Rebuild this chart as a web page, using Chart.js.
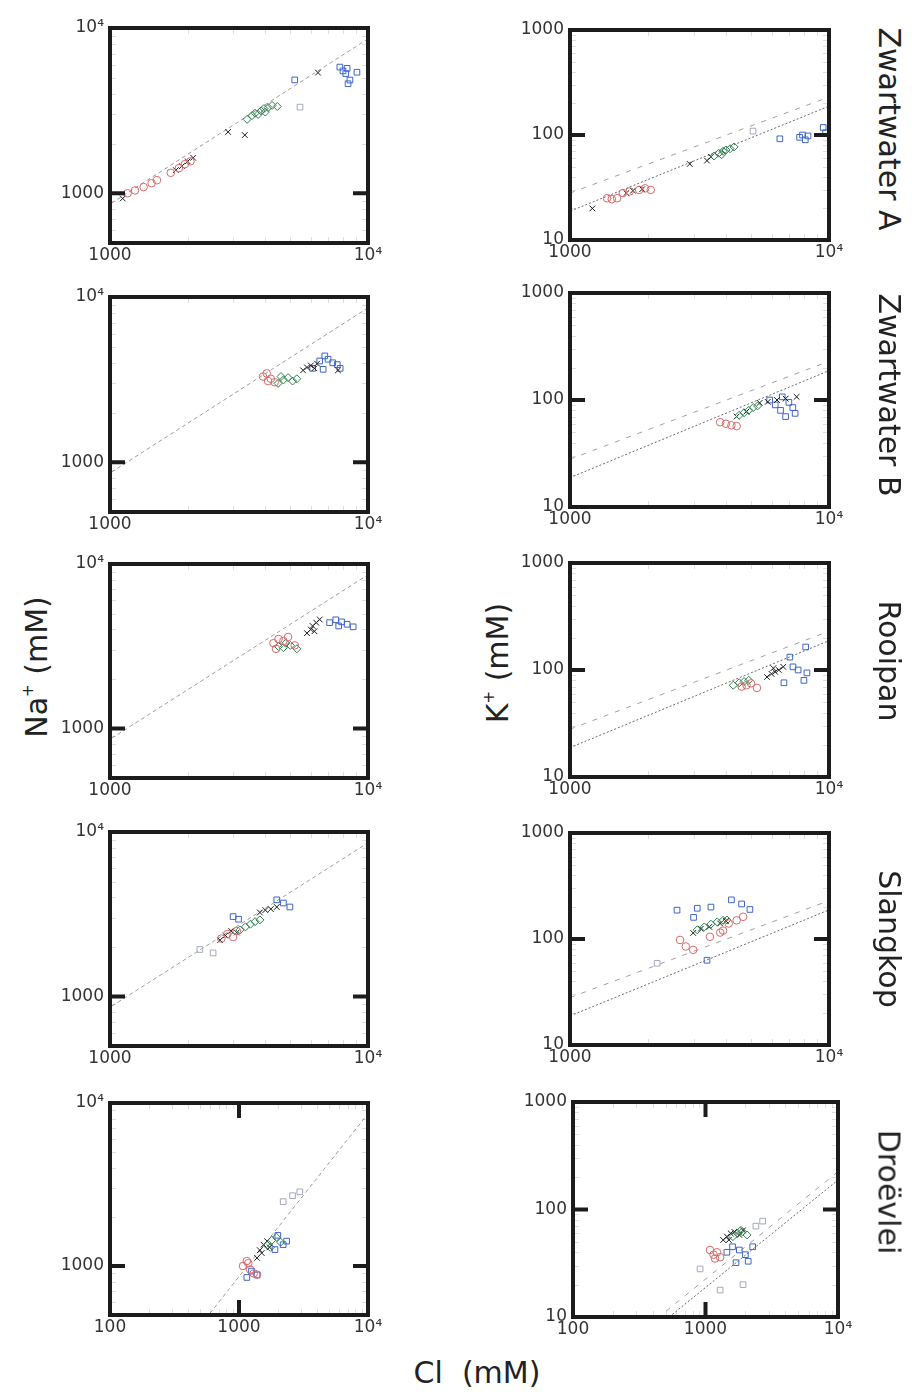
<!DOCTYPE html>
<html>
<head>
<meta charset="utf-8">
<script src="https://cdn.jsdelivr.net/npm/chart.js@4.4.0/dist/chart.umd.min.js"></script>
<style>
body { margin:0; background:#fff; width:912px; height:1395px; position:relative; overflow:hidden; font-family:'DejaVu Sans', sans-serif; }
canvas { position:absolute; }
.lbl { position:absolute; font-size:30px; color:#222; white-space:nowrap; transform:translate(-50%,-50%); }
.lbl sup { font-size:15px; vertical-align:14px; line-height:0; }
.rot-l { transform:translate(-50%,-50%) rotate(-90deg); }
.rot-r { transform:translate(-50%,-50%) rotate(90deg); }
</style>
</head>
<body>

<div class="lbl rot-l" style="left:36px; top:667px;">Na<sup>+</sup> (mM)</div>
<div class="lbl rot-l" style="left:497px; top:663px;">K<sup>+</sup> (mM)</div>
<div class="lbl" style="left:477px; top:1372px;">Cl&nbsp;&nbsp;(mM)</div>

<script>
// sites, top to bottom
var siteNames = ['Zwartwater A', 'Zwartwater B', 'Rooipan', 'Slangkop', 'Droëvlei'];

// [Cl, Na] in mM
var zwaNaRed   = [[1170,1000],[1250,1040],[1350,1090],[1450,1150],[1520,1200],[1720,1330],[1850,1420],[1950,1500],[2050,1560]];
var zwaNaGreen = [[3400,2800],[3550,2950],[3650,3050],[3750,3000],[3850,3150],[3950,3250],[4100,3300],[4250,3400],[4450,3350],[4000,3100]];
var zwaNaBlack = [[1120,930],[1800,1380],[1900,1460],[2000,1560],[2100,1640],[2870,2350],[3330,2250],[6400,5370]];
var zwaNaBlue  = [[5200,4850],[7780,5800],[8000,5500],[8200,5300],[8510,4840],[9060,5400],[8370,4600],[8300,5700]];
var zwaNaGray  = [[5450,3320]];

var zwbNaRed   = [[3920,3300],[4050,3450],[4200,3200],[4350,3050],[4100,3100]];
var zwbNaGreen = [[4480,3000],[4700,3150],[4900,3250],[5100,3100],[5300,3200],[4600,3300]];
var zwbNaBlack = [[5600,3600],[5800,3750],[6000,3850],[6200,3700],[6350,3950],[7650,3600]];
var zwbNaBlue  = [[6100,3700],[6500,4100],[6800,4400],[7000,4200],[7300,4000],[7600,3900],[7800,3700],[6700,3650]];
var zwbNaGray  = [];

var rooNaRed   = [[4300,3300],[4500,3500],[4700,3400],[4900,3600],[5200,3200],[4400,3050]];
var rooNaGreen = [[4500,3150],[4700,3100],[4800,3300],[5000,3200],[5300,3050]];
var rooNaBlack = [[5800,3800],[6000,4000],[6100,4200],[6300,4400],[6500,4600],[6200,3900]];
var rooNaBlue  = [[7100,4400],[7500,4580],[7900,4450],[8300,4300],[8760,4150],[7700,4200]];
var rooNaGray  = [];

var slaNaRed   = [[2700,2250],[2850,2400],[3000,2300],[3100,2500]];
var slaNaGreen = [[3190,2540],[3350,2650],[3500,2750],[3650,2850],[3810,2920]];
var slaNaBlack = [[2670,2200],[2800,2350],[2950,2500],[3100,2450],[3810,3240],[4000,3350],[4200,3400],[4430,3500]];
var slaNaBlue  = [[3000,3060],[3150,2950],[4430,3870],[4700,3700],[4980,3500]];
var slaNaGray  = [[2230,1930],[2510,1840]];

var droNaRed   = [[1074,1000],[1150,1072],[1220,950],[1300,900],[1380,885],[1180,1040]];
var droNaGreen = [[1650,1340],[1800,1440],[1950,1500],[2100,1400],[1750,1300]];
var droNaBlack = [[1380,1120],[1450,1250],[1550,1350],[1650,1420],[1730,1300],[1500,1200]];
var droNaBlue  = [[1150,850],[1250,930],[1380,880],[2000,1540],[2340,1420],[2200,1350],[1900,1260]];
var droNaGray  = [[2200,2480],[2600,2700],[2960,2850]];

// [Cl, K] in mM
var zwaKRed   = [[1390,25],[1450,24.5],[1520,25],[1600,28],[1700,29],[1850,30],[1950,31],[2050,30]];
var zwaKGreen = [[3600,63],[3750,67],[3900,70],[4000,72],[4150,74],[4300,77],[3850,65]];
var zwaKBlack = [[1220,20],[1650,28],[1750,29.5],[1900,30.5],[2900,53],[3380,57],[3500,62]];
var zwaKBlue  = [[6460,92],[7700,95],[7900,100],[8100,90],[8300,98],[9500,118],[9700,105]];
var zwaKGray  = [[5090,109]];

var zwbKRed   = [[3800,62],[4000,60],[4200,58],[4400,57]];
var zwbKGreen = [[4500,72],[4700,76],[4900,80],[5100,85],[5300,88]];
var zwbKBlack = [[4400,70],[4800,78],[5400,94],[5800,96],[6300,100],[6800,103],[7500,107]];
var zwbKBlue  = [[5900,100],[6200,90],[6500,80],[6800,70],[7000,95],[7250,85],[6600,107],[7400,75]];
var zwbKGray  = [];

var rooKRed   = [[4600,70],[4800,72],[5000,75],[5270,68]];
var rooKGreen = [[4270,72],[4500,76],[4700,78],[4900,80]];
var rooKBlack = [[5760,86],[6000,92],[6200,96],[6400,100],[6660,107],[6100,104]];
var rooKBlue  = [[7060,132],[8130,164],[7260,107],[7600,100],[8220,94],[6700,76],[8000,80]];
var rooKGray  = [];

var slaKRed   = [[2660,98],[2800,85],[2990,79],[3470,105],[3800,115],[4100,140],[4400,150],[4660,162],[3900,120]];
var slaKGreen = [[3100,122],[3300,130],[3500,138],[3700,145],[3900,150],[4040,151]];
var slaKBlack = [[2990,114],[3200,125],[3450,130],[3800,140],[4000,148]];
var slaKBlue  = [[2590,187],[3100,195],[3500,200],[4200,234],[4600,214],[4950,190],[3380,63],[3000,160]];
var slaKGray  = [[2170,59]];

var droKRed   = [[1081,42],[1150,38],[1220,40],[1290,36],[1180,35]];
var droKGreen = [[1610,56],[1750,60],[1900,62],[2060,58],[1850,64]];
var droKBlack = [[1360,52],[1450,56],[1550,60],[1650,62],[1800,58],[1920,64],[1500,52]];
var droKBlue  = [[1450,40],[1600,45],[1800,42],[2000,38],[2270,45],[2100,33],[1700,32]];
var droKGray  = [[910,28],[1290,17.8],[1920,20],[2400,70],[2700,78]];

// reference lines, [Cl, value]
var naSeawaterLine = [[100,86],[10000,8600]];
var kSeawaterLine  = [[100,1.88],[10000,188]];
var kUpperLine     = [[1000,28],[10000,230]];
var kUpperLineDro  = [[100,2.25],[10000,225]];

// tick labels
var naTicks  = [1000, 10000];
var kTicks   = [10, 100, 1000];
var clTicks  = [1000, 10000];
var clTicksWide = [100, 1000, 10000];

var naSets = [
    [zwaNaRed, zwaNaGreen, zwaNaBlack, zwaNaBlue, zwaNaGray],
    [zwbNaRed, zwbNaGreen, zwbNaBlack, zwbNaBlue, zwbNaGray],
    [rooNaRed, rooNaGreen, rooNaBlack, rooNaBlue, rooNaGray],
    [slaNaRed, slaNaGreen, slaNaBlack, slaNaBlue, slaNaGray],
    [droNaRed, droNaGreen, droNaBlack, droNaBlue, droNaGray]
];
var kSets = [
    [zwaKRed, zwaKGreen, zwaKBlack, zwaKBlue, zwaKGray],
    [zwbKRed, zwbKGreen, zwbKBlack, zwbKBlue, zwbKGray],
    [rooKRed, rooKGreen, rooKBlack, rooKBlue, rooKGray],
    [slaKRed, slaKGreen, slaKBlack, slaKBlue, slaKGray],
    [droKRed, droKGreen, droKBlack, droKBlue, droKGray]
];

// marker look for each group
var groupStyle = [
    {color:'#d8686a', style:'circle',  r:3.8},
    {color:'#2f7f4f', style:'rectRot', r:4},
    {color:'#1a1a1a', style:'crossRot',r:4},
    {color:'#3d66c8', style:'rect',    r:4},
    {color:'#a3aabb', style:'rect',    r:4}
];

// plot areas: left, top, width, height
var naAreas = [[110,28,258,215],[110,297,258,215],[110,564,258,214],[110,832,258,214],[110,1103,258,212]];
var kAreas  = [[570,30,259,210],[570,293,259,214],[570,563,259,214],[570,833,259,212],[573,1102,265,215]];
var titleY  = [129, 395, 661, 939, 1192];

function fmtTick(v){
    return v === 10000 ? '10\u2074' : String(v);
}

function xy(list){
    return list.map(function(p){ return {x:p[0], y:p[1]}; });
}

var frame = {
    id: 'frame',
    afterDraw: function(chart){
        var a = chart.chartArea, ctx = chart.ctx, o = chart.options.plugins.frame;
        var sx = chart.scales.x, sy = chart.scales.y;
        ctx.save();
        // faint minor ticks
        ctx.strokeStyle = 'rgba(0,0,0,0.13)';
        ctx.lineWidth = 1;
        o.minorY.forEach(function(v){
            var y = Math.round(sy.getPixelForValue(v)) + 0.5;
            ctx.beginPath(); ctx.moveTo(a.left, y); ctx.lineTo(a.left+6, y);
            ctx.moveTo(a.right-6, y); ctx.lineTo(a.right, y); ctx.stroke();
        });
        o.minorX.forEach(function(v){
            var x = Math.round(sx.getPixelForValue(v)) + 0.5;
            ctx.beginPath(); ctx.moveTo(x, a.top); ctx.lineTo(x, a.top+6);
            ctx.moveTo(x, a.bottom-6); ctx.lineTo(x, a.bottom); ctx.stroke();
        });
        // decade ticks, inside on all four sides
        ctx.strokeStyle = '#1c1c1c';
        ctx.lineWidth = 4;
        o.majorY.forEach(function(v){
            var y = sy.getPixelForValue(v);
            ctx.beginPath(); ctx.moveTo(a.left, y); ctx.lineTo(a.left+15, y);
            ctx.moveTo(a.right-15, y); ctx.lineTo(a.right, y); ctx.stroke();
        });
        o.majorX.forEach(function(v){
            var x = sx.getPixelForValue(v);
            ctx.beginPath(); ctx.moveTo(x, a.top); ctx.lineTo(x, a.top+15);
            ctx.moveTo(x, a.bottom-15); ctx.lineTo(x, a.bottom); ctx.stroke();
        });
        ctx.strokeRect(a.left, a.top, a.right-a.left, a.bottom-a.top);
        ctx.restore();
    }
};

function minorsBetween(lo, hi){
    var out = [];
    for (var d = 1; d < hi; d *= 10) {
        for (var m = 2; m < 10; m++) {
            var v = m*d;
            if (v > lo && v < hi) out.push(v);
        }
    }
    return out;
}

function makePanel(area, groups, lines, yMin, yMax, yTicks, xMin, xTicks, majorY, majorX){
    var cv = document.createElement('canvas');
    var left = area[0]-90, top = area[1]-20;
    var w = area[2]+130, h = area[3]+65;
    cv.width = w; cv.height = h;
    cv.style.left = left+'px'; cv.style.top = top+'px';
    cv.style.width = w+'px'; cv.style.height = h+'px';
    document.body.appendChild(cv);

    var datasets = [];
    groups.forEach(function(g, i){
        var st = groupStyle[i];
        datasets.push({
            data: xy(g),
            pointStyle: st.style,
            pointRadius: st.r,
            pointBorderColor: st.color,
            pointBackgroundColor: 'rgba(0,0,0,0)',
            pointBorderWidth: 1,
            showLine: false
        });
    });
    lines.forEach(function(l){
        datasets.push({
            data: xy(l.pts),
            showLine: true,
            pointRadius: 0,
            borderColor: l.color,
            borderWidth: 1,
            borderDash: l.dash,
            fill: false
        });
    });

    var tickFont = {family:'DejaVu Sans', size:17};
    new Chart(cv.getContext('2d'), {
        type: 'scatter',
        data: {datasets: datasets},
        options: {
            responsive: false,
            animation: false,
            devicePixelRatio: 1,
            layout: {padding: {left:30, right:40, top:20, bottom:15}},
            plugins: {
                legend: {display:false},
                tooltip: {enabled:false},
                frame: {
                    majorY: majorY, majorX: majorX,
                    minorY: minorsBetween(yMin, yMax),
                    minorX: minorsBetween(xMin, 10000)
                }
            },
            scales: {
                x: {
                    type: 'logarithmic', min: xMin, max: 10000,
                    afterFit: function(s){ s.height = 30; },
                    afterBuildTicks: function(s){ s.ticks = xTicks.map(function(v){ return {value:v}; }); },
                    grid: {display:false, drawTicks:false},
                    border: {display:false},
                    ticks: {padding:2, color:'#333', font:tickFont, maxRotation:0, autoSkip:false, callback:fmtTick}
                },
                y: {
                    type: 'logarithmic', min: yMin, max: yMax,
                    afterFit: function(s){ s.width = 60; },
                    afterBuildTicks: function(s){ s.ticks = yTicks.map(function(v){ return {value:v}; }); },
                    grid: {display:false, drawTicks:false},
                    border: {display:false},
                    ticks: {padding:6, color:'#333', font:tickFont, autoSkip:false, callback:fmtTick}
                }
            }
        },
        plugins: [frame]
    });
}

for (var i = 0; i < 5; i++) {
    var wide = (i === 4);
    makePanel(naAreas[i], naSets[i],
        [{pts:naSeawaterLine, color:'#a89a9a', dash:[4,3]}],
        500, 10000, naTicks, wide ? 100 : 1000, wide ? clTicksWide : clTicks,
        [1000], wide ? [1000] : []);
    makePanel(kAreas[i], kSets[i],
        [{pts:kSeawaterLine, color:'#6a6a6a', dash:[2,2]},
         {pts: wide ? kUpperLineDro : kUpperLine, color:'#a0a0a0', dash:[5,7]}],
        10, 1000, kTicks, wide ? 100 : 1000, wide ? clTicksWide : clTicks,
        [100], wide ? [1000] : []);

    var t = document.createElement('div');
    t.className = 'lbl rot-r';
    t.style.left = '889px';
    t.style.top = titleY[i]+'px';
    t.textContent = siteNames[i];
    document.body.appendChild(t);
}
</script>
</body>
</html>
